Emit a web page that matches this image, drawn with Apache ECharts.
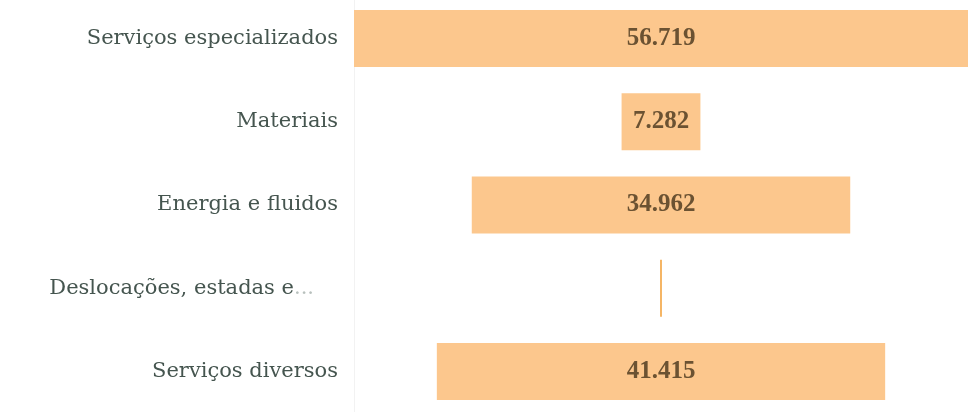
<!DOCTYPE html>
<html>
<head>
<meta charset="utf-8">
<script src="https://cdn.jsdelivr.net/npm/echarts@6/dist/echarts.min.js"></script>
<style>
    html, body { margin: 0; padding: 0; background: #fff; overflow: hidden; }
    #chart { width: 970px; height: 416px; margin-top: -3px; }
</style>
</head>
<body>
<div id="chart"></div>
<script>
var categories = ['Serviços especializados', 'Materiais', 'Energia e fluidos', 'Deslocações, estadas e...', 'Serviços diversos'];
var values = [56719, 7282, 34962, 180, 41415];
var valueLabels = ['56.719', '7.282', '34.962', '', '41.415'];

var maxValue = Math.max.apply(null, values);

// invisible offset so each bar sits centred like a funnel
var offsets = values.map(function (v) { return (maxValue - v) / 2; });

var chart = echarts.init(document.getElementById('chart'));
chart.setOption({
    animation: false,
    grid: { left: 354, right: 2, top: 0, bottom: 0 },
    xAxis: {
        type: 'value',
        min: 0,
        max: maxValue,
        show: false
    },
    yAxis: {
        type: 'category',
        inverse: true,
        data: categories,
        axisTick: { show: false },
        axisLine: { show: true, lineStyle: { color: '#f2f2f2', width: 1 } },
        axisLabel: {
            margin: 16,
            fontFamily: 'DejaVu Serif',
            fontSize: 21,
            color: '#45554f',
            formatter: function (name) {
                // truncated name: dots drawn faint, like the reference
                if (name.slice(-3) === '...') {
                    return '{a|' + name.slice(0, -3) + '}{b|...}';
                }
                return name;
            },
            rich: {
                a: { fontFamily: 'DejaVu Serif', fontSize: 21, color: '#45554f' },
                b: { fontFamily: 'DejaVu Serif', fontSize: 21, color: '#b8c0bd', padding: [0, 24, 0, 0] }
            }
        }
    },
    series: [{
        type: 'bar',
        stack: 'funnel',
        barWidth: 57,
        silent: true,
        itemStyle: { color: 'transparent' },
        data: offsets
    }, {
        type: 'bar',
        stack: 'funnel',
        barWidth: 57,
        itemStyle: { color: '#fcc78d' },
        label: {
            show: true,
            position: 'inside',
            fontFamily: 'Liberation Serif',
            fontWeight: 'bold',
            fontSize: 25,
            color: '#6b5232',
            formatter: function (p) { return valueLabels[p.dataIndex]; }
        },
        data: values.map(function (v, i) {
            return i === 3 ? { value: v, itemStyle: { color: '#f5b462' } } : v;
        })
    }]
});
</script>
</body>
</html>
